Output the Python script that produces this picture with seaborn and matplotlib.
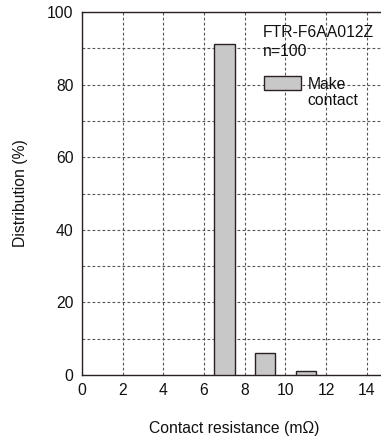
import matplotlib
matplotlib.use("Agg")
import matplotlib.pyplot as plt
import seaborn as sns
import pandas as pd

# Data
resistance = [7, 9, 11]          # bin centres (mΩ)
distribution = [91.2, 6.0, 1.0]  # %
x_ticks = [0, 2, 4, 6, 8, 10, 12, 14]
y_ticks = [0, 20, 40, 60, 80, 100]
model = "FTR-F6AA012Z"
sample = "n=100"
series_label = "Make"

sns.set_theme(style="white")
plt.rcParams['font.family'] = ['Liberation Sans', 'DejaVu Sans']
FS = 11.3
plt.rcParams['font.size'] = FS

df = pd.DataFrame({"r": resistance, "d": distribution})

fig = plt.figure(figsize=(3.81, 4.37), dpi=100)
ax = fig.add_axes([82/381, (437-375)/437, 305/381, 363/437])

sns.barplot(data=df, x="r", y="d", native_scale=True, width=0.5,
            color="#c8c8c8", edgecolor="#2a2222", linewidth=1.0,
            saturation=1, ax=ax, zorder=3)

ax.set_xlim(0, 15)
ax.set_ylim(0, 100)
ax.set_xticks(x_ticks)
ax.set_yticks(y_ticks)
ax.set_yticks(range(10, 100, 20), minor=True)
ax.tick_params(axis="both", length=0, labelsize=FS, colors="#111111")
ax.tick_params(axis="x", pad=5.5)
ax.tick_params(axis="y", pad=6)
ax.grid(True, which="both", axis="y", color="#555555", linestyle=(0, (2.5, 2)), linewidth=0.8, zorder=0)
ax.grid(True, which="major", axis="x", color="#555555", linestyle=(0, (2.5, 2)), linewidth=0.8, zorder=0)
for s in ["left", "bottom", "top"]:
    ax.spines[s].set_color("#2a2222")
    ax.spines[s].set_linewidth(1.0)
ax.spines["right"].set_visible(False)

ax.set_xlabel("Contact resistance (mΩ)", fontsize=FS, labelpad=16.5, color="#111111")
ax.set_ylabel("Distribution (%)", fontsize=FS, labelpad=14, color="#111111")

ax.text(8.9, 96.3, model + "\n" + sample, fontsize=FS, va="top", ha="left",
        linespacing=1.3, color="#111111", zorder=5)

handle = ax.patches[0]
leg = ax.legend([handle], [series_label], loc="upper left",
                bbox_to_anchor=(8.95, 82.4), bbox_transform=ax.transData,
                frameon=False, fontsize=FS, handlelength=2.35, handleheight=1.05,
                handletextpad=0.45, borderpad=0, borderaxespad=0)
for t in leg.get_texts():
    t.set_color("#111111")
ax.text(11.1, 77.6, "contact", fontsize=FS, va="top", ha="left", color="#111111", zorder=5)

fig.savefig("out.png", dpi=100)
